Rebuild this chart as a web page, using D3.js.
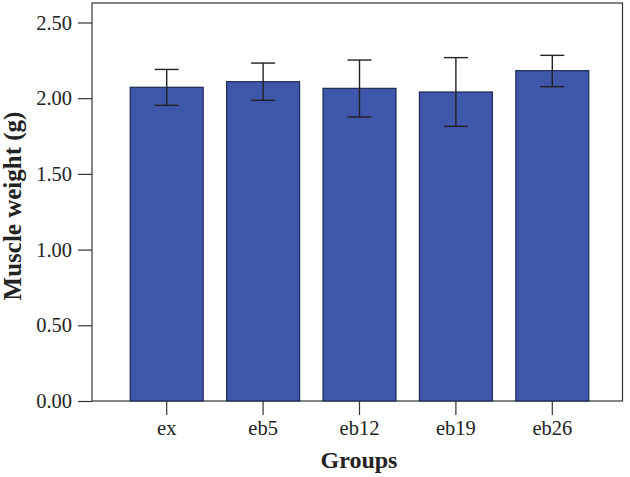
<!DOCTYPE html>
<html><head><meta charset="utf-8">
<script src="https://cdn.jsdelivr.net/npm/d3@7"></script>
<style>body{margin:0;background:#fff}svg{display:block}</style>
</head><body>
<svg id="c" width="630" height="477"></svg>
<script>
const categories = ["ex","eb5","eb12","eb19","eb26"];
const means = [2.072, 2.109, 2.065, 2.041, 2.182];
const errLow = [1.953, 1.986, 1.876, 1.814, 2.076];
const errHigh = [2.190, 2.232, 2.252, 2.268, 2.283];
const yTicks = [0, 0.5, 1.0, 1.5, 2.0, 2.5];

const svg = d3.select("#c");
const box = {l: 92, t: 3, r: 622.5, b: 401};
const y = d3.scaleLinear().domain([0, 2.5]).range([401, 22.5]);
const x = d3.scaleBand().domain(categories).range([118.5, 600.5]).paddingInner(0.243).paddingOuter(0.1215);
const font = "'Liberation Serif','Times New Roman',serif";

svg.append("rect").attr("x", box.l).attr("y", box.t).attr("width", box.r - box.l).attr("height", box.b - box.t)
  .attr("fill", "none").attr("stroke", "#333").attr("stroke-width", 1.2);

const yAxis = svg.append("g").attr("transform", `translate(${box.l},0)`)
  .call(d3.axisLeft(y).tickValues(yTicks).tickFormat(d3.format(".2f")).tickSize(14).tickPadding(6));
yAxis.select(".domain").remove();
yAxis.selectAll("line").attr("stroke", "#333").attr("stroke-width", 1.2);
yAxis.selectAll("text").attr("font-family", font).attr("font-size", 20.5).attr("fill", "#222");

const xAxis = svg.append("g").attr("transform", `translate(0,${box.b})`)
  .call(d3.axisBottom(x).tickSize(14).tickPadding(5));
xAxis.select(".domain").remove();
xAxis.selectAll("line").attr("stroke", "#333").attr("stroke-width", 1.2);
xAxis.selectAll("text").attr("font-family", font).attr("font-size", 20.5).attr("fill", "#222");

const data = categories.map((c, i) => ({c, m: means[i], lo: errLow[i], hi: errHigh[i]}));

svg.append("g").selectAll("rect").data(data).join("rect")
  .attr("x", d => x(d.c)).attr("width", x.bandwidth())
  .attr("y", d => y(d.m)).attr("height", d => y(0) - y(d.m))
  .attr("fill", "#3f57aa").attr("stroke", "#1e2a55").attr("stroke-width", 1.2);

const cap = 12;
const eb = svg.append("g").attr("stroke", "#222").attr("stroke-width", 1.4);
data.forEach(d => {
  const cx = x(d.c) + x.bandwidth() / 2;
  eb.append("line").attr("x1", cx).attr("x2", cx).attr("y1", y(d.hi)).attr("y2", y(d.lo));
  eb.append("line").attr("x1", cx - cap).attr("x2", cx + cap).attr("y1", y(d.hi)).attr("y2", y(d.hi));
  eb.append("line").attr("x1", cx - cap).attr("x2", cx + cap).attr("y1", y(d.lo)).attr("y2", y(d.lo));
});

svg.append("text").attr("x", 359).attr("y", 468).attr("text-anchor", "middle")
  .attr("font-family", font).attr("font-size", 24).attr("font-weight", "bold").attr("fill", "#222").text("Groups");
svg.append("text").attr("transform", "translate(21,206) rotate(-90)").attr("text-anchor", "middle")
  .attr("font-family", font).attr("font-size", 25).attr("font-weight", "bold").attr("fill", "#222").text("Muscle weight (g)");
</script>
</body></html>
